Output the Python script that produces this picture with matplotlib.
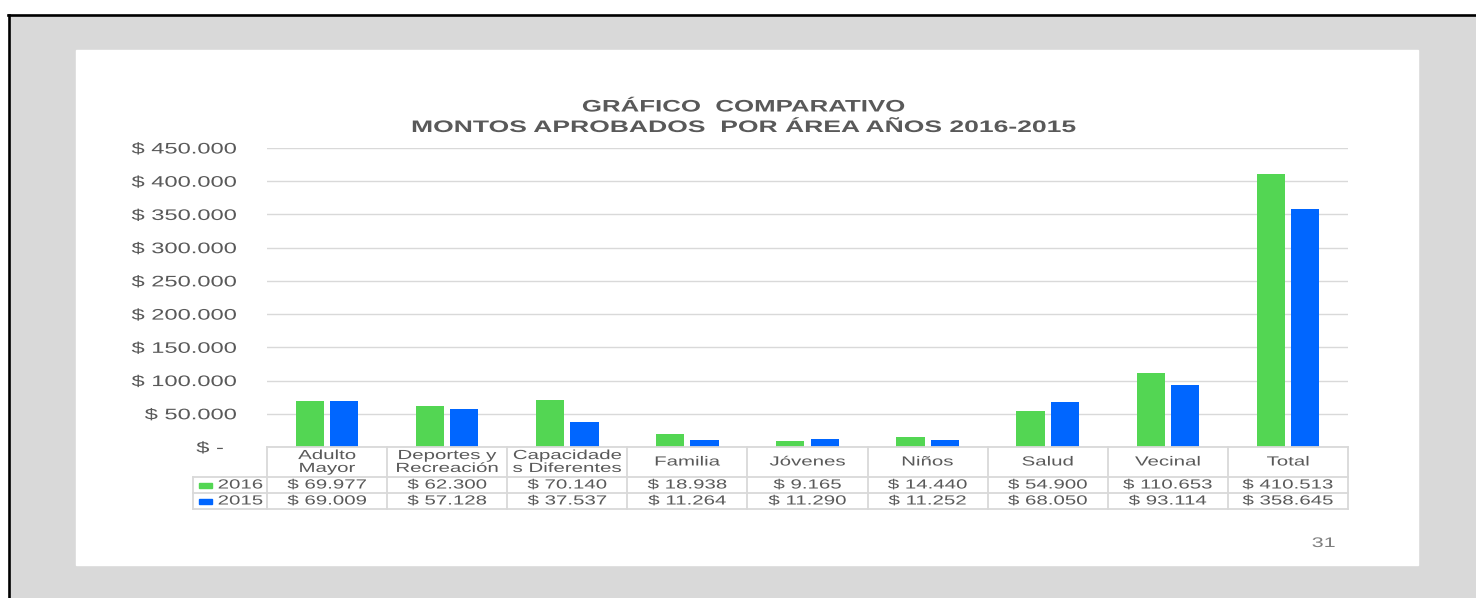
import numpy as np
import matplotlib
matplotlib.use("Agg")
import matplotlib.pyplot as plt
from matplotlib.patches import Rectangle
from matplotlib.lines import Line2D
from matplotlib.patheffects import AbstractPathEffect
from matplotlib.transforms import Affine2D, ScaledTranslation

plt.rcParams['font.family'] = ['Liberation Sans', 'DejaVu Sans']

# data
categories = ["Adulto\nMayor", "Deportes y\nRecreación", "Capacidade\ns Diferentes",
              "Familia", "Jóvenes", "Niños", "Salud", "Vecinal", "Total"]
years = ["2016", "2015"]
v2016 = [69977, 62300, 70140, 18938, 9165, 14440, 54900, 110653, 410513]
v2015 = [69009, 57128, 37537, 11264, 11290, 11252, 68050, 93114, 358645]
yticks = list(range(0, 450001, 50000))

GREEN = '#53d653'
BLUE = '#0066ff'
TXT = '#595959'
GRID = '#d9d9d9'
SX = 1.55  # the original slide text is stretched sideways


class StretchX(AbstractPathEffect):
    def __init__(self, sx, anchor='center'):
        super().__init__()
        self.sx = sx
        self.anchor = anchor

    def draw_path(self, renderer, gc, tpath, affine, rgbFace=None):
        ext = affine.transform_path(tpath).get_extents()
        if self.anchor == 'left':
            cx = ext.x0
        elif self.anchor == 'right':
            cx = ext.x1
        else:
            cx = (ext.x0 + ext.x1) / 2
        aff = affine + Affine2D().translate(-cx, 0).scale(self.sx, 1).translate(cx, 0)
        renderer.draw_path(gc, tpath, aff, rgbFace)


def money(v):
    return "$ " + f"{v:,}".replace(",", ".") if v else "$ -"


W, H = 1476, 598
fig = plt.figure(figsize=(W / 100, H / 100), dpi=100)


def fx(px):
    return px / W


def fy(py):
    return 1 - py / H


# slide frame
fig.patches.append(Rectangle((fx(10), 0), 1 - fx(10), fy(16), transform=fig.transFigure,
                             color='#d9d9d9', zorder=-10))
fig.patches.append(Rectangle((fx(76), fy(565)), fx(1418) - fx(76), fy(50) - fy(565),
                             transform=fig.transFigure, color='white', zorder=-9))
fig.lines.append(Line2D([fx(8), 1], [fy(15.3), fy(15.3)], transform=fig.transFigure,
                        color='black', lw=1.9, zorder=-8))
fig.lines.append(Line2D([fx(9), fx(9)], [0, fy(14.5)], transform=fig.transFigure,
                        color='black', lw=1.9, zorder=-8))

# chart
ax = fig.add_axes([fx(267), fy(447), fx(1348) - fx(267), fy(148) - fy(447)])
ax.set_facecolor('none')
x = np.arange(len(categories))
w = 0.235
off = w / 2 + 0.025
ax.bar(x - off, v2016, width=w, color=GREEN, zorder=3)
ax.bar(x + off, v2015, width=w, color=BLUE, zorder=3)
ax.set_xlim(-0.5, len(categories) - 0.5)
ax.set_ylim(0, 450000)
ax.set_yticks(yticks)
ax.set_yticklabels([money(v) for v in yticks])
ax.set_xticks([])
ax.tick_params(axis='y', length=0, pad=22, labelsize=11, labelcolor=TXT)
ax.yaxis.grid(True, color=GRID, lw=1)
ax.set_axisbelow(True)
for s in ax.spines.values():
    s.set_visible(False)
for lab in ax.get_yticklabels():
    lab.set_path_effects([StretchX(SX, 'right')])
zero = ax.yaxis.get_major_ticks()[0].label1
zero.set_transform(zero.get_transform() + ScaledTranslation(-0.13, 0, fig.dpi_scale_trans))

fig.text(fx(743), fy(107), "GRÁFICO  COMPARATIVO", ha='center', va='center',
         fontsize=12, fontweight='bold', color=TXT, path_effects=[StretchX(SX)])
fig.text(fx(743), fy(127.5), "MONTOS APROBADOS  POR ÁREA AÑOS 2016-2015", ha='center',
         va='center', fontsize=12, fontweight='bold', color=TXT, path_effects=[StretchX(1.59)])

# data table below the chart
tax = fig.add_axes([fx(193), fy(510), fx(1348) - fx(193), fy(447) - fy(510)])
xl = -0.5 - (267 - 193) / 120
tax.set_xlim(xl, len(categories) - 0.5)
tax.set_ylim(63, 0)
tax.axis('off')
n = len(categories)
lk = dict(color=GRID, lw=1.3, clip_on=False)
tax.plot([-0.5, n - 0.5], [0, 0], **lk)
for yy in (30, 46, 62):
    tax.plot([xl, n - 0.5], [yy, yy], **lk)
tax.plot([xl, xl], [30, 62], **lk)
for i in range(n + 1):
    tax.plot([i - 0.5, i - 0.5], [0, 62], **lk)

tk = dict(ha='center', va='center', color=TXT, fontsize=9.5)
for i, c in enumerate(categories):
    tax.text(i, 15.5, c, linespacing=1.1, path_effects=[StretchX(SX)], **tk)
    tax.text(i, 38.5, money(v2016[i]), path_effects=[StretchX(SX)], **tk)
    tax.text(i, 54.5, money(v2015[i]), path_effects=[StretchX(SX)], **tk)

for yr, col, yc in zip(years, [GREEN, BLUE], [38, 54]):
    tax.add_patch(Rectangle((xl + 6 / 120, yc - 2.5), 13 / 120, 5, color=col, clip_on=False))
    tax.text(xl + 25 / 120, yc + 0.5, yr, ha='left', va='center', color=TXT, fontsize=9.5,
             path_effects=[StretchX(SX, 'left')])

fig.text(fx(1312), fy(543), "31", ha='left', va='center', fontsize=10, color='#7f7f7f',
         path_effects=[StretchX(SX, 'left')])

fig.savefig("out.png", dpi=100)
